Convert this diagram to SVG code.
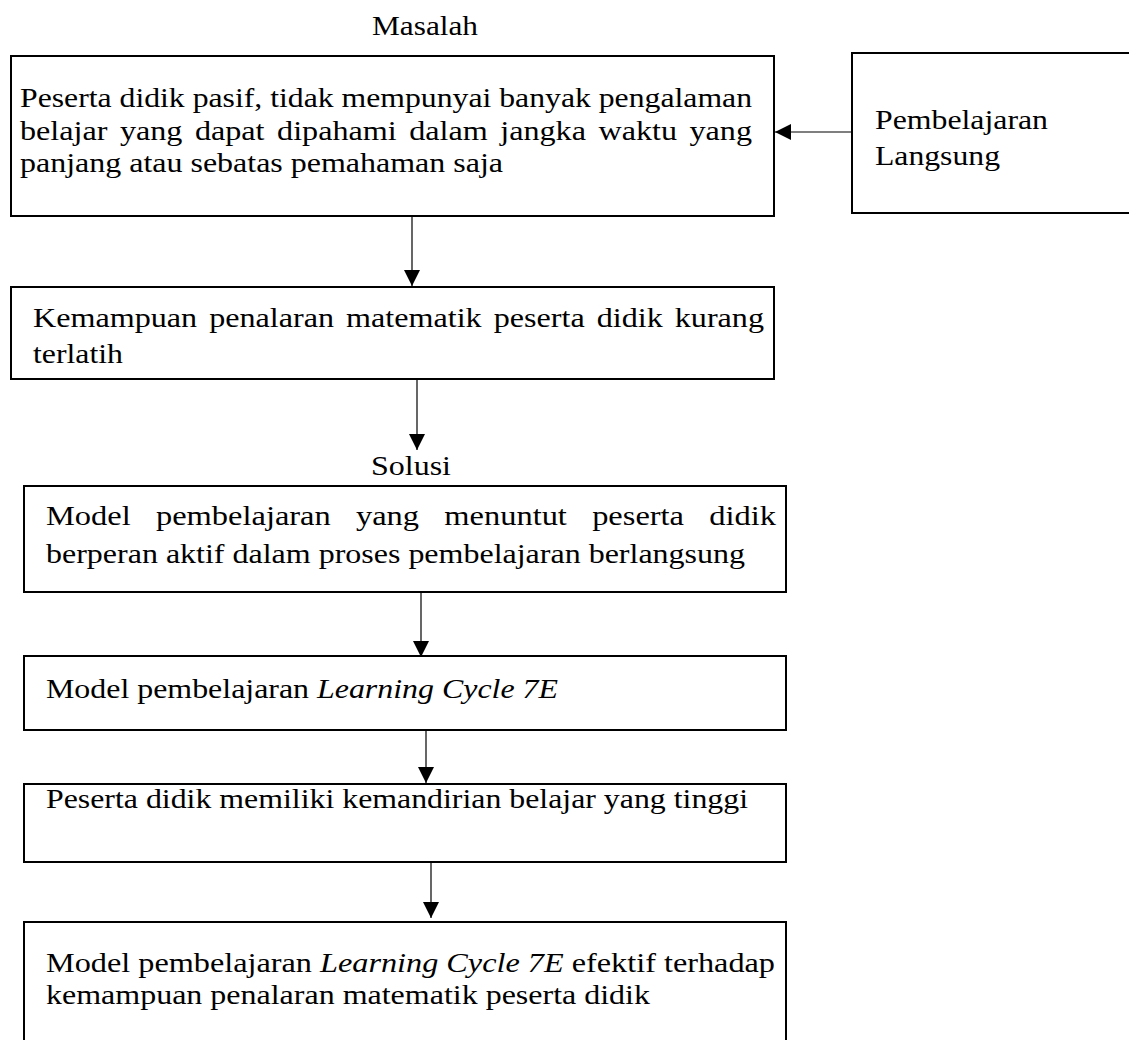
<svg xmlns="http://www.w3.org/2000/svg" width="1129" height="1040" viewBox="0 0 1129 1040">
<style>
  .box { fill: #ffffff; stroke: #000000; stroke-width: 2; }
  .t { font-family: "Liberation Serif", "Times New Roman", serif; font-size: 27px; fill: #000000; }
  .tl { font-size: 28px; }
  .i { font-style: italic; }
  .con { stroke: #000000; stroke-width: 1.2; fill: none; }
</style>
<defs>
  <marker id="arrow" markerUnits="userSpaceOnUse" markerWidth="17" markerHeight="17" refX="16" refY="8" orient="auto">
    <path d="M0,0 L16,8 L0,16 z" fill="#000000"/>
  </marker>
</defs>
<rect width="1129" height="1040" fill="#ffffff"/>

<text id="label-masalah" class="t" x="372" y="35" textLength="106" lengthAdjust="spacingAndGlyphs">Masalah</text>
<text id="label-solusi" class="t tl" x="371" y="475" textLength="80" lengthAdjust="spacingAndGlyphs">Solusi</text>

<g id="node-masalah">
  <rect class="box" x="11" y="56" width="763" height="160"/>
  <text class="t" x="20" y="107" textLength="732" lengthAdjust="spacingAndGlyphs">Peserta didik pasif, tidak mempunyai banyak pengalaman</text>
  <text class="t" x="20" y="140" textLength="732" lengthAdjust="spacingAndGlyphs" word-spacing="3.8">belajar yang dapat dipahami dalam jangka waktu yang</text>
  <text class="t" x="20" y="172" textLength="483" lengthAdjust="spacingAndGlyphs">panjang atau sebatas pemahaman saja</text>
</g>

<g id="node-langsung">
  <rect class="box" x="852" y="53" width="290" height="160"/>
  <text class="t" x="875" y="129" textLength="173" lengthAdjust="spacingAndGlyphs">Pembelajaran</text>
  <text class="t" x="875" y="165" textLength="125" lengthAdjust="spacingAndGlyphs">Langsung</text>
</g>

<g id="node-penalaran">
  <rect class="box" x="11" y="287" width="763" height="92"/>
  <text class="t tl" x="33" y="327" textLength="731" lengthAdjust="spacingAndGlyphs" word-spacing="3.5">Kemampuan penalaran matematik peserta didik kurang</text>
  <text class="t tl" x="33" y="363" textLength="90" lengthAdjust="spacingAndGlyphs">terlatih</text>
</g>

<g id="node-model-aktif">
  <rect class="box" x="24" y="486" width="762" height="106"/>
  <text class="t tl" x="46" y="525" textLength="730" lengthAdjust="spacingAndGlyphs" word-spacing="14.8">Model pembelajaran yang menuntut peserta didik</text>
  <text class="t tl" x="46" y="563" textLength="699" lengthAdjust="spacingAndGlyphs">berperan aktif dalam proses pembelajaran berlangsung</text>
</g>

<g id="node-lc7e">
  <rect class="box" x="24" y="656" width="762" height="74"/>
  <text class="t tl" x="46" y="698" textLength="512" lengthAdjust="spacingAndGlyphs">Model pembelajaran <tspan class="i">Learning Cycle 7E</tspan></text>
</g>

<g id="node-kemandirian">
  <rect class="box" x="24" y="784" width="762" height="78"/>
  <text class="t tl" x="46" y="808" textLength="702" lengthAdjust="spacingAndGlyphs">Peserta didik memiliki kemandirian belajar yang tinggi</text>
</g>

<g id="node-efektif">
  <rect class="box" x="24" y="922" width="762" height="130"/>
  <text class="t tl" x="46" y="972" textLength="729" lengthAdjust="spacingAndGlyphs">Model pembelajaran <tspan class="i">Learning Cycle 7E</tspan> efektif terhadap</text>
  <text class="t tl" x="46" y="1004" textLength="604" lengthAdjust="spacingAndGlyphs">kemampuan penalaran matematik peserta didik</text>
</g>

<g id="connectors">
  <line class="con" x1="852" y1="132" x2="775" y2="132" marker-end="url(#arrow)"/>
  <line class="con" x1="412" y1="217" x2="412" y2="286" marker-end="url(#arrow)"/>
  <line class="con" x1="417" y1="380" x2="417" y2="450" marker-end="url(#arrow)"/>
  <line class="con" x1="421" y1="593" x2="421" y2="657" marker-end="url(#arrow)"/>
  <line class="con" x1="426" y1="731" x2="426" y2="783" marker-end="url(#arrow)"/>
  <line class="con" x1="431" y1="863" x2="431" y2="918" marker-end="url(#arrow)"/>
</g>
</svg>
